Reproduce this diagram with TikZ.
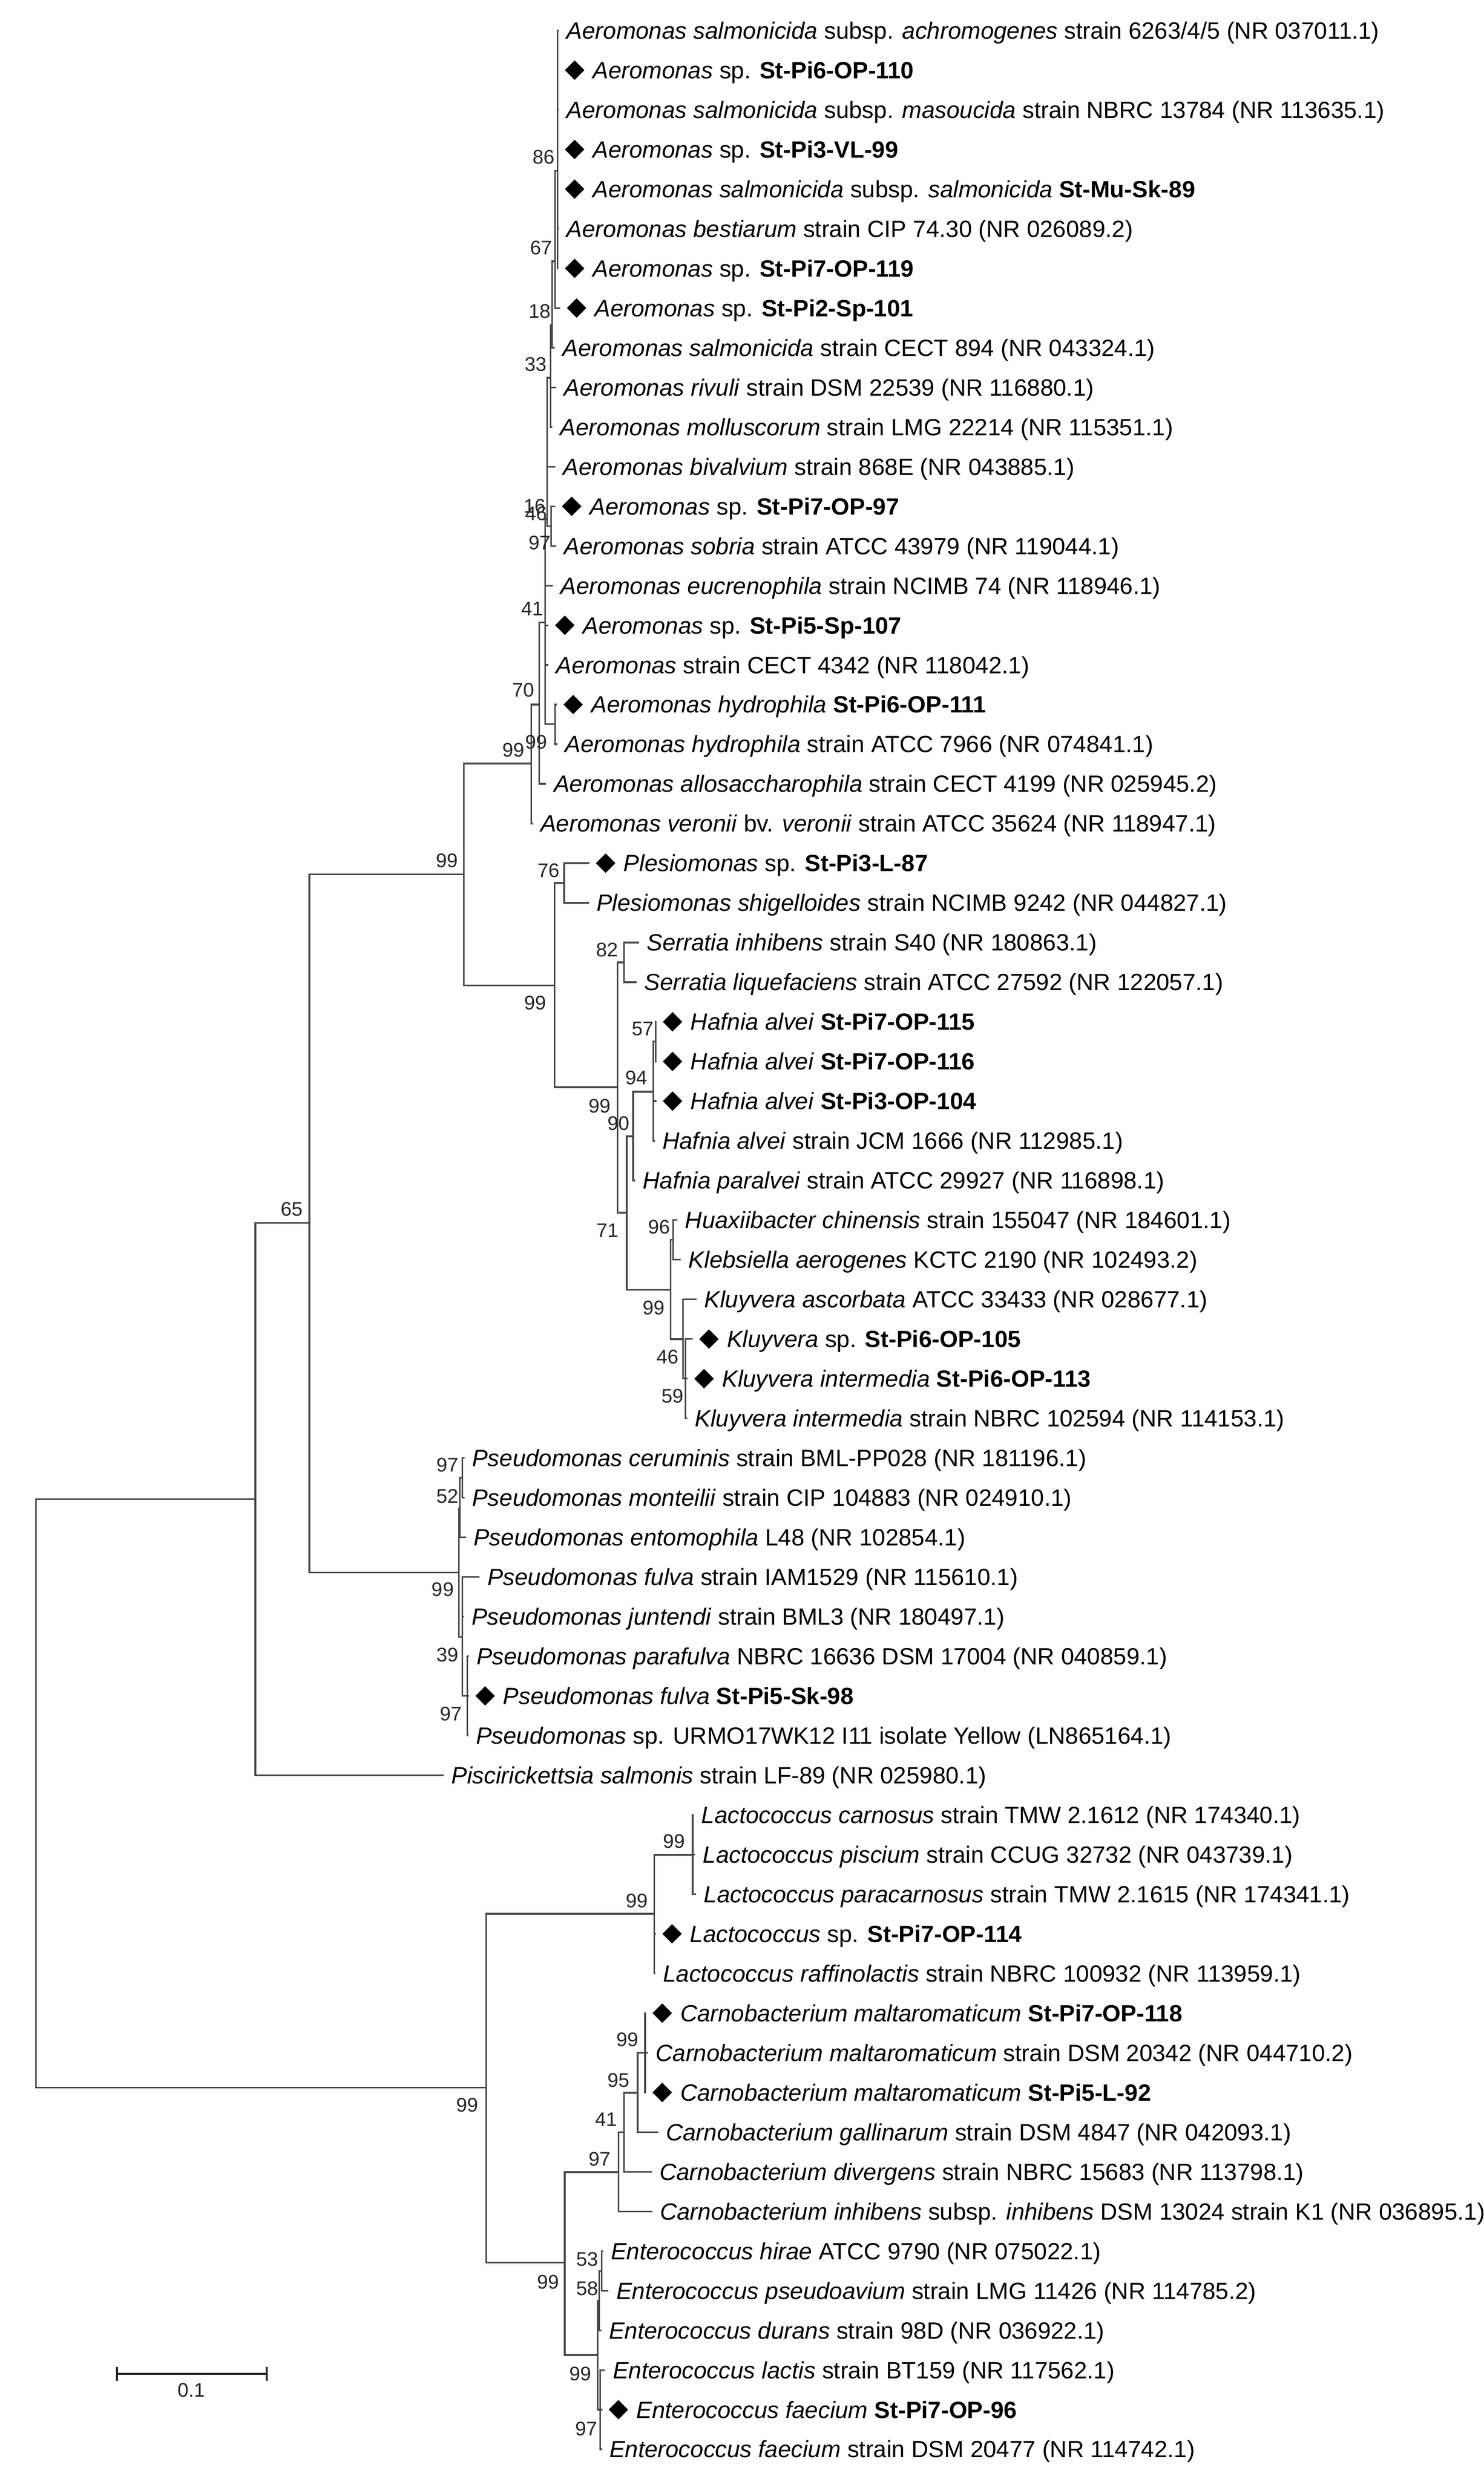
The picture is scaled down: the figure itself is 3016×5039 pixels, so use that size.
\documentclass[tikz,border=0pt]{standalone}
\usepackage{fontspec}
\setmainfont{Liberation Sans}
\usetikzlibrary{shapes.geometric}
\tikzset{
  br/.style={draw=black!72, line width=0.95pt},
  sbar/.style={draw=black!85, line width=1.1pt},
  leaftxt/.style={anchor=base west, inner sep=0pt, font=\fontsize{13.6}{16}\selectfont},
  bsl/.style={anchor=base east, inner sep=0pt, font=\fontsize{11.4}{13}\selectfont, text=black!85},
  dia/.style={diamond, fill=black, draw=none, inner sep=0pt, minimum width=0.40cm, minimum height=0.40cm},
}
\newcommand\mkleaf[4]{%
  \pgfmathsetmacro\leafy{62+80.6*(#1-1)}%
  \coordinate (L#1) at (#2,\leafy);%
  \ifnum#3=1
    \node[dia] (D#1) at (#2+33,\leafy) {};%
    \node[leaftxt] (T#1) at (#2+69,\leafy+17) {#4};%
  \else
    \node[leaftxt] (T#1) at (#2+15,\leafy+17) {#4};%
  \fi}
\newcommand\bsv[4]{\node[bsl] (#1) at (#2,#3+15) {#4};}
\newcommand\kids[2]{\foreach \k in {#2} {\draw[br] (#1) |- (\k);}}
\begin{document}
\begin{tikzpicture}[x=0.01cm,y=-0.01cm]
\useasboundingbox (0,0) rectangle (3016,5039);
% ---------------- leaves ----------------
\mkleaf{1}{1136}{0}{\textit{Aeromonas salmonicida} subsp. \textit{achromogenes} strain 6263/4/5 (NR 037011.1)}
\mkleaf{2}{1135}{1}{\textit{Aeromonas} sp. \textbf{St-Pi6-OP-110}}
\mkleaf{3}{1136}{0}{\textit{Aeromonas salmonicida} subsp. \textit{masoucida} strain NBRC 13784 (NR 113635.1)}
\mkleaf{4}{1135}{1}{\textit{Aeromonas} sp. \textbf{St-Pi3-VL-99}}
\mkleaf{5}{1135}{1}{\textit{Aeromonas salmonicida} subsp. \textit{salmonicida} \textbf{St-Mu-Sk-89}}
\mkleaf{6}{1136}{0}{\textit{Aeromonas bestiarum} strain CIP 74.30 (NR 026089.2)}
\mkleaf{7}{1135}{1}{\textit{Aeromonas} sp. \textbf{St-Pi7-OP-119}}
\mkleaf{8}{1139}{1}{\textit{Aeromonas} sp. \textbf{St-Pi2-Sp-101}}
\mkleaf{9}{1128}{0}{\textit{Aeromonas salmonicida} strain CECT 894 (NR 043324.1)}
\mkleaf{10}{1131}{0}{\textit{Aeromonas rivuli} strain DSM 22539 (NR 116880.1)}
\mkleaf{11}{1123}{0}{\textit{Aeromonas molluscorum} strain LMG 22214 (NR 115351.1)}
\mkleaf{12}{1129}{0}{\textit{Aeromonas bivalvium} strain 868E (NR 043885.1)}
\mkleaf{13}{1129}{1}{\textit{Aeromonas} sp. \textbf{St-Pi7-OP-97}}
\mkleaf{14}{1131}{0}{\textit{Aeromonas sobria} strain ATCC 43979 (NR 119044.1)}
\mkleaf{15}{1124}{0}{\textit{Aeromonas eucrenophila} strain NCIMB 74 (NR 118946.1)}
\mkleaf{16}{1115}{1}{\textit{Aeromonas} sp. \textbf{St-Pi5-Sp-107}}
\mkleaf{17}{1115}{0}{\textit{Aeromonas} strain CECT 4342 (NR 118042.1)}
\mkleaf{18}{1132}{1}{\textit{Aeromonas hydrophila} \textbf{St-Pi6-OP-111}}
\mkleaf{19}{1133}{0}{\textit{Aeromonas hydrophila} strain ATCC 7966 (NR 074841.1)}
\mkleaf{20}{1110}{0}{\textit{Aeromonas allosaccharophila} strain CECT 4199 (NR 025945.2)}
\mkleaf{21}{1083}{0}{\textit{Aeromonas veronii} bv. \textit{veronii} strain ATCC 35624 (NR 118947.1)}
\mkleaf{22}{1198}{1}{\textit{Plesiomonas} sp. \textbf{St-Pi3-L-87}}
\mkleaf{23}{1197}{0}{\textit{Plesiomonas shigelloides} strain NCIMB 9242 (NR 044827.1)}
\mkleaf{24}{1299}{0}{\textit{Serratia inhibens} strain S40 (NR 180863.1)}
\mkleaf{25}{1294}{0}{\textit{Serratia liquefaciens} strain ATCC 27592 (NR 122057.1)}
\mkleaf{26}{1334}{1}{\textit{Hafnia alvei} \textbf{St-Pi7-OP-115}}
\mkleaf{27}{1334}{1}{\textit{Hafnia alvei} \textbf{St-Pi7-OP-116}}
\mkleaf{28}{1334}{1}{\textit{Hafnia alvei} \textbf{St-Pi3-OP-104}}
\mkleaf{29}{1331}{0}{\textit{Hafnia alvei} strain JCM 1666 (NR 112985.1)}
\mkleaf{30}{1291}{0}{\textit{Hafnia paralvei} strain ATCC 29927 (NR 116898.1)}
\mkleaf{31}{1377}{0}{\textit{Huaxiibacter chinensis} strain 155047 (NR 184601.1)}
\mkleaf{32}{1384}{0}{\textit{Klebsiella aerogenes} KCTC 2190 (NR 102493.2)}
\mkleaf{33}{1416}{0}{\textit{Kluyvera ascorbata} ATCC 33433 (NR 028677.1)}
\mkleaf{34}{1408}{1}{\textit{Kluyvera} sp. \textbf{St-Pi6-OP-105}}
\mkleaf{35}{1398}{1}{\textit{Kluyvera intermedia} \textbf{St-Pi6-OP-113}}
\mkleaf{36}{1397}{0}{\textit{Kluyvera intermedia} strain NBRC 102594 (NR 114153.1)}
\mkleaf{37}{944}{0}{\textit{Pseudomonas ceruminis} strain BML-PP028 (NR 181196.1)}
\mkleaf{38}{944}{0}{\textit{Pseudomonas monteilii} strain CIP 104883 (NR 024910.1)}
\mkleaf{39}{947}{0}{\textit{Pseudomonas entomophila} L48 (NR 102854.1)}
\mkleaf{40}{975}{0}{\textit{Pseudomonas fulva} strain IAM1529 (NR 115610.1)}
\mkleaf{41}{943}{0}{\textit{Pseudomonas juntendi} strain BML3 (NR 180497.1)}
\mkleaf{42}{953}{0}{\textit{Pseudomonas parafulva} NBRC 16636 DSM 17004 (NR 040859.1)}
\mkleaf{43}{953}{1}{\textit{Pseudomonas fulva} \textbf{St-Pi5-Sk-98}}
\mkleaf{44}{952}{0}{\textit{Pseudomonas} sp. URMO17WK12 I11 isolate Yellow (LN865164.1)}
\mkleaf{45}{902}{0}{\textit{Piscirickettsia salmonis} strain LF-89 (NR 025980.1)}
\mkleaf{46}{1410}{0}{\textit{Lactococcus carnosus} strain TMW 2.1612 (NR 174340.1)}
\mkleaf{47}{1413}{0}{\textit{Lactococcus piscium} strain CCUG 32732 (NR 043739.1)}
\mkleaf{48}{1415}{0}{\textit{Lactococcus paracarnosus} strain TMW 2.1615 (NR 174341.1)}
\mkleaf{49}{1333}{1}{\textit{Lactococcus} sp. \textbf{St-Pi7-OP-114}}
\mkleaf{50}{1332}{0}{\textit{Lactococcus raffinolactis} strain NBRC 100932 (NR 113959.1)}
\mkleaf{51}{1313}{1}{\textit{Carnobacterium maltaromaticum} \textbf{St-Pi7-OP-118}}
\mkleaf{52}{1317}{0}{\textit{Carnobacterium maltaromaticum} strain DSM 20342 (NR 044710.2)}
\mkleaf{53}{1313}{1}{\textit{Carnobacterium maltaromaticum} \textbf{St-Pi5-L-92}}
\mkleaf{54}{1338}{0}{\textit{Carnobacterium gallinarum} strain DSM 4847 (NR 042093.1)}
\mkleaf{55}{1325}{0}{\textit{Carnobacterium divergens} strain NBRC 15683 (NR 113798.1)}
\mkleaf{56}{1326}{0}{\textit{Carnobacterium inhibens} subsp. \textit{inhibens} DSM 13024 strain K1 (NR 036895.1)}
\mkleaf{57}{1226}{0}{\textit{Enterococcus hirae} ATCC 9790 (NR 075022.1)}
\mkleaf{58}{1237}{0}{\textit{Enterococcus pseudoavium} strain LMG 11426 (NR 114785.2)}
\mkleaf{59}{1222}{0}{\textit{Enterococcus durans} strain 98D (NR 036922.1)}
\mkleaf{60}{1230}{0}{\textit{Enterococcus lactis} strain BT159 (NR 117562.1)}
\mkleaf{61}{1224}{1}{\textit{Enterococcus faecium} \textbf{St-Pi7-OP-96}}
\mkleaf{62}{1223}{0}{\textit{Enterococcus faecium} strain DSM 20477 (NR 114742.1)}
% ---------------- internal nodes ----------------
\coordinate (N86) at (1133,347);
\coordinate (N67) at (1128,531);
\coordinate (N18) at (1122,661);
\coordinate (N33) at (1119,768);
\coordinate (N16) at (1112,1055);
\coordinate (N46) at (1120,1070);
\coordinate (N41) at (1108,1265);
\coordinate (N99i) at (1128,1472);
\coordinate (N70) at (1096,1432);
\coordinate (NA) at (1080,1552);
\coordinate (NB) at (943,1777);
\coordinate (E1) at (1127,2003);
\coordinate (P76) at (1147,1795);
\coordinate (E2) at (1255,2210);
\coordinate (N82) at (1268,1956);
\coordinate (E3) at (1274,2465);
\coordinate (H1) at (1287,2310);
\coordinate (N94) at (1328,2219);
\coordinate (N57) at (1333,2117);
\coordinate (K1) at (1363,2622);
\coordinate (N96) at (1368,2520);
\coordinate (K2) at (1388,2722);
\coordinate (K3) at (1393,2802);
\coordinate (N65) at (629,2486);
\coordinate (Nx) at (519,3047);
\coordinate (P1) at (933,3196);
\coordinate (P2) at (935,3066);
\coordinate (P3) at (940,3004);
\coordinate (P6) at (940,3327);
\coordinate (P5) at (950,3447);
\coordinate (Root) at (73,3645);
\coordinate (G1) at (988,4243);
\coordinate (G2) at (1330,3890);
\coordinate (G3) at (1408,3770);
\coordinate (G4) at (1148,4599);
\coordinate (C4) at (1257,4415);
\coordinate (C3) at (1268,4334);
\coordinate (C2) at (1296,4254);
\coordinate (C1) at (1311,4173);
\coordinate (EN) at (1215,4787);
\coordinate (En58) at (1218,4677);
\coordinate (En53) at (1223,4616);
\coordinate (En97) at (1220,4898);
% ---------------- branches ----------------
\kids{N86}{L1,L2,L3,L4,L5,L6,L7}
\kids{N67}{N86,L8}
\kids{N18}{N67,L9}
\kids{N33}{N18,L10,L11}
\kids{N16}{N33,L12,N46}
\kids{N46}{L13,L14}
\kids{N41}{N16,L15,L16,L17,N99i}
\kids{N99i}{L18,L19}
\kids{N70}{N41,L20}
\kids{NA}{N70,L21}
\kids{NB}{NA,E1}
\kids{E1}{P76,E2}
\kids{P76}{L22,L23}
\kids{E2}{N82,E3}
\kids{N82}{L24,L25}
\kids{E3}{H1,K1}
\kids{H1}{N94,L30}
\kids{N94}{N57,L28,L29}
\kids{N57}{L26,L27}
\kids{K1}{N96,K2}
\kids{N96}{L31,L32}
\kids{K2}{L33,K3}
\kids{K3}{L34,L35,L36}
\kids{N65}{NB,P1}
\kids{Nx}{N65,L45}
\kids{P1}{P2,P6}
\kids{P2}{P3,L39}
\kids{P3}{L37,L38}
\kids{P6}{L40,L41,P5}
\kids{P5}{L42,L43,L44}
\kids{Root}{Nx,G1}
\kids{G1}{G2,G4}
\kids{G2}{G3,L49,L50}
\kids{G3}{L46,L47,L48}
\kids{G4}{C4,EN}
\kids{C4}{C3,L56}
\kids{C3}{C2,L55}
\kids{C2}{C1,L54}
\kids{C1}{L51,L52,L53}
\kids{EN}{En58,En97}
\kids{En58}{En53,L59}
\kids{En53}{L57,L58}
\kids{En97}{L60,L61,L62}
% ---------------- bootstrap values ----------------
\bsv{b86}{1128}{318}{86}
\bsv{b67}{1123}{502}{67}
\bsv{b18}{1120}{632}{18}
\bsv{b33}{1112}{739}{33}
\bsv{b16}{1110}{1028}{16}
\bsv{b46}{1113}{1043}{46}
\bsv{b97a}{1120}{1102}{97}
\bsv{b41a}{1105}{1236}{41}
\bsv{b70}{1087}{1401}{70}
\bsv{b99i}{1113}{1507}{99}
\bsv{b99A}{1067}{1523}{99}
\bsv{b99B}{932}{1748}{99}
\bsv{b76}{1138}{1768}{76}
\bsv{b82}{1257}{1930}{82}
\bsv{b99E1}{1111}{2037}{99}
\bsv{b57}{1330}{2090}{57}
\bsv{b94}{1317}{2190}{94}
\bsv{b99E2}{1242}{2247}{99}
\bsv{b90}{1280}{2282}{90}
\bsv{b96}{1363}{2493}{96}
\bsv{b71}{1258}{2500}{71}
\bsv{b99K1}{1352}{2657}{99}
\bsv{b46k}{1380}{2757}{46}
\bsv{b59}{1390}{2837}{59}
\bsv{b65}{616}{2457}{65}
\bsv{b97p3}{933}{2977}{97}
\bsv{b52}{933}{3040}{52}
\bsv{b99P1}{923}{3230}{99}
\bsv{b39}{933}{3363}{39}
\bsv{b97p5}{940}{3483}{97}
\bsv{b99G3}{1393}{3742}{99}
\bsv{b99G2}{1318}{3862}{99}
\bsv{b99G1}{973}{4278}{99}
\bsv{b99C1}{1298}{4145}{99}
\bsv{b95}{1280}{4227}{95}
\bsv{b41c}{1255}{4307}{41}
\bsv{b97c}{1242}{4388}{97}
\bsv{b53}{1217}{4591}{53}
\bsv{b99G4}{1137}{4637}{99}
\bsv{b58}{1217}{4651}{58}
\bsv{b99EN}{1203}{4824}{99}
\bsv{b97e}{1215}{4936}{97}
% ---------------- scale bar ----------------
\coordinate (sbL) at (238,4825);
\coordinate (sbR) at (542,4825);
\draw[sbar] (sbL) -- (sbR);
\draw[sbar] (sbL) ++(0,-14) -- ++(0,28);
\draw[sbar] (sbR) ++(0,-14) -- ++(0,28);
\node[bsl, anchor=base] (sblab) at (389,4872) {0.1};
\end{tikzpicture}
\end{document}
